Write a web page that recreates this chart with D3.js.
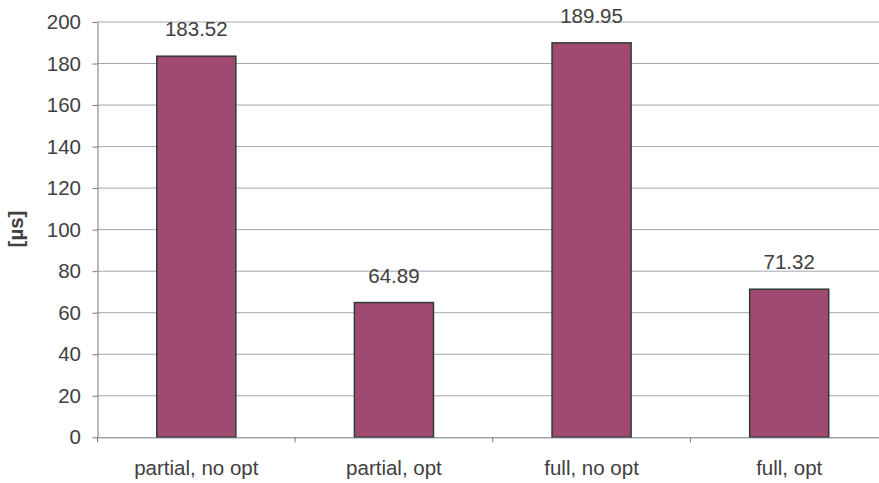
<!DOCTYPE html>
<html>
<head>
<meta charset="utf-8">
<script src="https://cdn.jsdelivr.net/npm/d3@7"></script>
<style>
  html, body { margin: 0; padding: 0; background: #ffffff; }
  svg { display: block; font-family: "Liberation Sans", Arial, sans-serif; }
</style>
</head>
<body>
<svg id="chart" width="879" height="483"></svg>
<script>
// Timing per configuration, in microseconds
const categories = ["partial, no opt", "partial, opt", "full, no opt", "full, opt"];
const values = [183.52, 64.89, 189.95, 71.32];
const yTicks = [0, 20, 40, 60, 80, 100, 120, 140, 160, 180, 200];
const yLabel = "[µs]";

const svg = d3.select("#chart");
const plotL = 97.5, plotR = 888, plotT = 22, plotB = 437.3;
const fontSize = 20.5;

const x = d3.scaleBand().domain(categories).range([plotL, plotR])
  .paddingInner(0.6).paddingOuter(0.3);
const y = d3.scaleLinear().domain([0, 200]).range([plotB, plotT]);

const textColor = "#404040";

// Horizontal gridlines
svg.append("g").selectAll("line").data(yTicks.filter(d => d > 0)).join("line")
  .attr("x1", plotL).attr("x2", plotR)
  .attr("y1", d => y(d)).attr("y2", d => y(d))
  .attr("stroke", "#a4a6ae").attr("stroke-width", 1);

// Bars
svg.append("g").selectAll("rect").data(values).join("rect")
  .attr("x", (d, i) => x(categories[i]))
  .attr("y", d => y(d))
  .attr("width", x.bandwidth())
  .attr("height", d => y(0) - y(d))
  .attr("fill", "#a04a72")
  .attr("stroke", "#2f3a36")
  .attr("stroke-width", 1.5);

// Value labels
svg.append("g").selectAll("text").data(values).join("text")
  .attr("x", (d, i) => x(categories[i]) + x.bandwidth() / 2)
  .attr("y", d => y(d) - 20)
  .attr("text-anchor", "middle")
  .attr("fill", textColor)
  .style("font-size", fontSize + "px")
  .text(d => d.toFixed(2));

// Y axis
const yAxis = d3.axisLeft(y).tickValues(yTicks).tickSize(5).tickPadding(11.5).tickSizeOuter(0);
const gy = svg.append("g").attr("transform", `translate(${plotL},0)`).call(yAxis);
gy.select(".domain").attr("stroke", "#707880");
gy.selectAll(".tick line").attr("stroke", "#707880");
gy.selectAll(".tick text").attr("fill", textColor).style("font-size", fontSize + "px")
  .style("font-family", "Liberation Sans, Arial, sans-serif");

// X axis with boundary ticks between categories
const xAxis = d3.axisBottom(x).tickSize(0).tickPadding(23).tickSizeOuter(0);
const gx = svg.append("g").attr("transform", `translate(0,${plotB})`).call(xAxis);
gx.select(".domain").attr("stroke", "#707880");
gx.selectAll(".tick text").attr("fill", textColor).style("font-size", fontSize + "px")
  .style("font-family", "Liberation Sans, Arial, sans-serif");
const step = x.step();
const bounds = d3.range(categories.length + 1).map(i => x(categories[0]) - x.paddingOuter() * step + i * step);
gx.append("g").selectAll("line").data(bounds).join("line")
  .attr("x1", d => d).attr("x2", d => d)
  .attr("y1", 0).attr("y2", 5)
  .attr("stroke", "#707880");

// Y axis title
svg.append("text")
  .attr("transform", `translate(23,229) rotate(-90)`)
  .attr("text-anchor", "middle")
  .attr("fill", textColor)
  .style("font-size", fontSize + "px")
  .attr("font-weight", "bold")
  .text(yLabel);
</script>
</body>
</html>
